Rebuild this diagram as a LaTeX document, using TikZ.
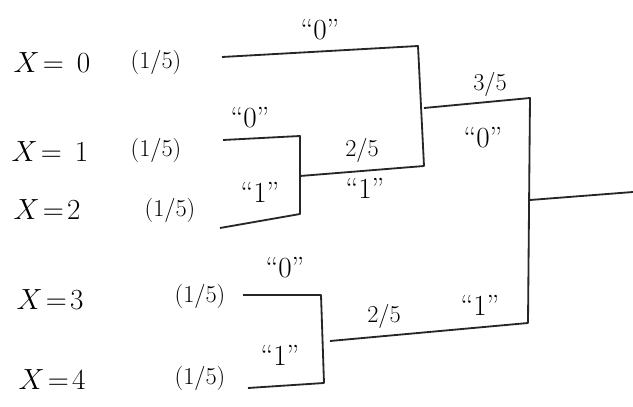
\documentclass[tikz,border=0pt]{standalone}
\usepackage{tikz}
\usetikzlibrary{positioning}
\tikzset{
  symlbl/.style={font=\huge, inner sep=1pt},
  problbl/.style={font=\LARGE, inner sep=1pt},
  bitlbl/.style={font=\huge, inner sep=1pt},
  fraclbl/.style={font=\LARGE, inner sep=1pt},
  branch/.style={line width=1.3pt, draw=black!85, line join=round},
}

\begin{document}
\begin{tikzpicture}[
  x=0.025cm, y=-0.025cm,
]
  \useasboundingbox (0,0) rectangle (633,407);

  % Left column — symbols and probabilities
  \node[symlbl] (x0) at (52,63) {$X\!=\,0$};
  \node[symlbl] (x1) at (50,152) {$X\!=\,1$};
  \node[symlbl] (x2) at (47,210) {$X\!=\!2$};
  \node[symlbl] (x3) at (50,300) {$X\!=\!3$};
  \node[symlbl] (x4) at (52,380) {$X\!=\!4$};

  \node[problbl] (p0) at (156,62) {(1/5)};
  \node[problbl] (p1) at (156,150) {(1/5)};
  \node[problbl] (p2) at (170,210) {(1/5)};
  \node[problbl] (p3) at (200,296) {(1/5)};
  \node[problbl] (p4) at (200,378) {(1/5)};

  % Leaf ends
  \coordinate (leaf0) at (222,57);
  \coordinate (leaf1) at (223,140);
  \coordinate (leaf2) at (220,228);
  \coordinate (leaf3) at (243,295);
  \coordinate (leaf4) at (248,388);

  % Merge points
  \coordinate (m12top) at (300,136);
  \coordinate (m12bot) at (300,214);
  \coordinate (m12out) at (300,176);
  \coordinate (m012top) at (418,46);
  \coordinate (m012bot) at (424,166);
  \coordinate (m012out) at (424,108);
  \coordinate (m34top) at (321,295);
  \coordinate (m34bot) at (324,383);
  \coordinate (m34out) at (330,341);
  \coordinate (roottop) at (530,98);
  \coordinate (rootbot) at (528,323);
  \coordinate (rootout) at (530,200);
  \coordinate (out) at (633,192);

  % Upper subtree
  \draw[branch] (leaf0) -- (m012top) -- (m012bot) -- (m12out);
  \draw[branch] (leaf1) -- (m12top) -- (m12bot) -- (leaf2);
  \draw[branch] (m012out) -- (roottop) -- (rootbot) -- (m34out);

  % Lower subtree
  \draw[branch] (leaf3) -- (m34top) -- (m34bot) -- (leaf4);

  % Output
  \draw[branch] (rootout) -- (out);

  % Branch labels
  \node[bitlbl] (b0) at (320,30) {``0''};
  \node[bitlbl] (b1) at (250,118) {``0''};
  \node[bitlbl] (b2) at (260,192) {``1''};
  \node[fraclbl] (f12) at (362,150) {2/5};
  \node[bitlbl] (b12) at (365,188) {``1''};
  \node[fraclbl] (f012) at (490,84) {3/5};
  \node[bitlbl] (b012) at (483,138) {``0''};
  \node[bitlbl] (b3) at (285,268) {``0''};
  \node[bitlbl] (b4) at (280,355) {``1''};
  \node[fraclbl] (f34) at (384,316) {2/5};
  \node[bitlbl] (b34) at (480,305) {``1''};
\end{tikzpicture}
\end{document}
